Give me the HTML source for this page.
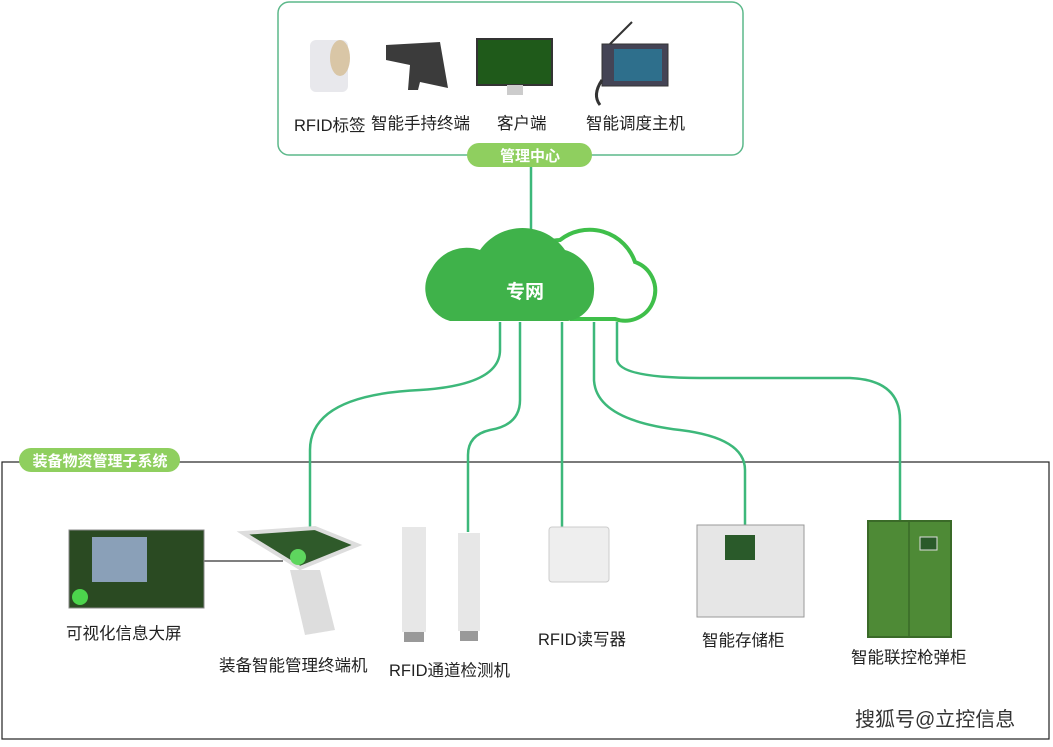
<!DOCTYPE html>
<html><head><meta charset="utf-8"><style>
html,body{margin:0;padding:0;background:#fff;}
svg text{font-family:"Liberation Sans","Noto Sans CJK SC",sans-serif;}
</style></head><body>
<svg width="1053" height="742" viewBox="0 0 1053 742" xmlns="http://www.w3.org/2000/svg">
<rect width="1053" height="742" fill="#fff"/>
<!-- top box -->
<rect x="278" y="2" width="465" height="153" rx="11" fill="none" stroke="#5cb88a" stroke-width="1.5"/>
<!-- bottom box -->
<rect x="2" y="462" width="1047" height="277" fill="none" stroke="#222" stroke-width="1.2"/>
<!-- connectors -->
<g fill="none" stroke="#3db87a" stroke-width="2.5">
<line x1="531" y1="166" x2="531" y2="242"/>
<path d="M500 322 V350 Q500 385 420 390 Q310 395 310 450 V530"/>
<path d="M520 322 V400 Q520 425 490 430 Q468 435 468 455 V532"/>
<path d="M562 322 V528"/>
<path d="M594 322 V380 Q596 420 680 430 Q745 438 745 470 V525"/>
<path d="M617 322 V360 Q620 378 700 378 H850 Q900 380 900 420 V522"/>
</g>
<line x1="204" y1="561" x2="283" y2="561" stroke="#333" stroke-width="1.2"/>
<!-- cloud -->
<path d="M570 319 H615 A30 30 0 0 0 635 262 A48 48 0 0 0 560 240 A50 50 0 0 0 535 248" fill="#fff" stroke="#3fbf4a" stroke-width="4"/>
<path d="M450 321 A34 34 0 0 1 432 268 A40 40 0 0 1 480 250 A52 52 0 0 1 565 250 A40 40 0 0 1 594 292 A30 30 0 0 1 568 321 Z" fill="#3fb24a"/>
<text x="525" y="298" font-size="19" font-weight="bold" fill="#fff" text-anchor="middle">专网</text>
<!-- pills -->
<rect x="467" y="143" width="125" height="24" rx="12" fill="#8fcf5f"/>
<text x="530" y="161" font-size="15" font-weight="bold" fill="#fff" text-anchor="middle">管理中心</text>
<rect x="19" y="448" width="161" height="24" rx="12" fill="#8fcf5f"/>
<text x="100" y="466" font-size="15" font-weight="bold" fill="#fff" text-anchor="middle">装备物资管理子系统</text>
<!-- top devices -->
<rect x="310" y="40" width="38" height="52" rx="6" fill="#e8e8ec"/>
<ellipse cx="340" cy="58" rx="10" ry="18" fill="#d9c6a6"/>
<path d="M386 45 L440 42 L448 88 L420 82 L418 90 L408 90 L410 65 L386 60Z" fill="#3b3b3b"/>
<rect x="477" y="39" width="75" height="46" fill="#1f5a1a" stroke="#333" stroke-width="2"/>
<rect x="507" y="85" width="16" height="10" fill="#ccc"/>
<rect x="602" y="44" width="66" height="42" fill="#445" stroke="#333"/>
<rect x="614" y="49" width="48" height="32" fill="#2e6f8c"/>
<line x1="610" y1="44" x2="632" y2="22" stroke="#333" stroke-width="2"/>
<path d="M602 80 Q592 95 600 105" fill="none" stroke="#333" stroke-width="3"/>
<g font-size="16.5" fill="#222">
<text x="294" y="131">RFID标签</text>
<text x="371" y="129">智能手持终端</text>
<text x="497" y="129">客户端</text>
<text x="586" y="129">智能调度主机</text>
</g>
<!-- bottom devices -->
<rect x="69" y="530" width="135" height="78" fill="#2a4a22" stroke="#888"/>
<rect x="92" y="537" width="55" height="45" fill="#8aa0b8"/>
<circle cx="80" cy="597" r="8" fill="#4cd44c"/>
<path d="M243 533 L315 528 L357 545 L300 568 Z" fill="#2f5a2a" stroke="#ddd" stroke-width="4"/>
<path d="M290 570 L320 570 L335 630 L305 635 Z" fill="#ddd"/>
<circle cx="298" cy="557" r="8" fill="#5ed65e"/>
<rect x="402" y="527" width="24" height="105" fill="#e7e7e7"/>
<rect x="404" y="632" width="20" height="10" fill="#999"/>
<rect x="458" y="533" width="22" height="98" fill="#e7e7e7"/>
<rect x="460" y="631" width="18" height="10" fill="#999"/>
<rect x="549" y="527" width="60" height="55" rx="3" fill="#eee" stroke="#ccc"/>
<rect x="697" y="525" width="107" height="92" fill="#e6e6e6" stroke="#999"/>
<rect x="725" y="535" width="30" height="25" fill="#2a5a2a"/>
<rect x="868" y="521" width="83" height="116" fill="#4e8a36" stroke="#3a6a28" stroke-width="2"/>
<line x1="909" y1="522" x2="909" y2="636" stroke="#2f5a20"/>
<rect x="920" y="537" width="17" height="13" fill="#2a5a2a" stroke="#ddd"/>
<g font-size="16.5" fill="#222">
<text x="66" y="639">可视化信息大屏</text>
<text x="219" y="671">装备智能管理终端机</text>
<text x="389" y="676">RFID通道检测机</text>
<text x="538" y="645">RFID读写器</text>
<text x="702" y="646">智能存储柜</text>
<text x="851" y="663">智能联控枪弹柜</text>
</g>
<text x="855" y="726" font-size="20" fill="#333">搜狐号@立控信息</text>
</svg>
</body></html>
